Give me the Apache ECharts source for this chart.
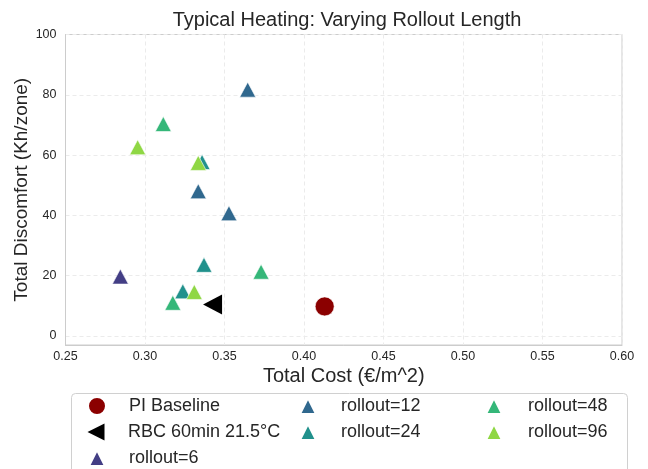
<!DOCTYPE html>
<html>
<head>
<meta charset="utf-8">
<script src="https://cdn.jsdelivr.net/npm/echarts@6/dist/echarts.min.js"></script>
<style>
html,body{margin:0;padding:0;background:#fff;}
#chart{width:648px;height:469px;}
</style>
</head>
<body>
<div id="chart"></div>
<script>
// ---- data ----
const xTicks = [0.25, 0.30, 0.35, 0.40, 0.45, 0.50, 0.55, 0.60];
const yTicks = [0, 20, 40, 60, 80, 100];

const piCost = [0.413];   const piDisc = [9.8];
const rbcCost = [0.3425]; const rbcDisc = [10.4];
const r6Cost = [0.2845];  const r6Disc = [19.7];
const r12Cost = [0.3646, 0.3335, 0.3528]; const r12Disc = [81.7, 48.0, 40.7];
const r24Cost = [0.3359, 0.3371, 0.3238]; const r24Disc = [57.7, 23.6, 14.8];
const r48Cost = [0.3115, 0.3730, 0.3175]; const r48Disc = [70.3, 21.3, 11.0];
const r96Cost = [0.2954, 0.3335, 0.3310]; const r96Disc = [62.6, 57.4, 14.6];

const seriesNames = ['PI Baseline', 'RBC 60min 21.5°C', 'rollout=6', 'rollout=12', 'rollout=24', 'rollout=48', 'rollout=96'];
const seriesColors = ['#8b0000', '#000000', '#433e85', '#30688e', '#21918c', '#35b779', '#8fd744'];
const seriesCost = [piCost, rbcCost, r6Cost, r12Cost, r24Cost, r48Cost, r96Cost];
const seriesDisc = [piDisc, rbcDisc, r6Disc, r12Disc, r24Disc, r48Disc, r96Disc];

// ---- chart ----
const FONT = "'Liberation Sans', Arial, sans-serif";
const TXT = '#262626';
const chart = echarts.init(document.getElementById('chart'), null, {renderer: 'canvas'});

function pairs(xs, ys) { return xs.map((x, i) => [x, ys[i]]); }

const series = seriesNames.map((name, i) => {
  const base = {
    name: name,
    type: 'scatter',
    data: pairs(seriesCost[i], seriesDisc[i]),
    itemStyle: {color: seriesColors[i], borderColor: '#ffffff', borderWidth: 0.6, opacity: 1},
    symbolKeepAspect: true,
    z: 2 + i,
    emphasis: {disabled: true}
  };
  if (i === 0) { base.symbol = 'circle'; base.symbolSize = 19; }
  else if (i === 1) { base.symbol = 'triangle'; base.symbolSize = [20, 19]; base.symbolRotate = 90; base.itemStyle.borderWidth = 0; }
  else { base.symbol = 'triangle'; base.symbolSize = [16, 15]; }
  return base;
});

// legend: 3 columns, column-major
const legendLayout = [
  // [seriesIndex, markerX, textX, rowY, iconSize, icon]
  [0, 96, 128, 406, 18, 'circle'],
  [1, 96, 128, 432, 17, 'path://M0,5 L10,0 L10,10 Z'],
  [2, 96, 128, 458, 16, 'triangle'],
  [3, 307, 340, 406, 16, 'triangle'],
  [4, 307, 340, 432, 16, 'triangle'],
  [5, 493, 527, 406, 16, 'triangle'],
  [6, 493, 527, 432, 16, 'triangle']
];
const legends = legendLayout.map(([si, mx, tx, ry, sz, icon]) => {
  return {
    data: [{name: seriesNames[si], icon: icon}],
    left: mx - sz / 2,
    top: ry - 11,
    padding: 0,
    itemWidth: sz,
    itemHeight: sz,
    itemGap: 0,
    selectedMode: false,
    textStyle: {fontFamily: FONT, fontSize: 18, color: TXT, lineHeight: 22,
      padding: [0, 0, 0, tx - (mx + sz / 2 + 5)]}
  };
});

const option = {
  backgroundColor: '#ffffff',
  animation: false,
  title: {
    text: 'Typical Heating: Varying Rollout Length',
    left: 342,
    textAlign: 'center',
    top: 5,
    textStyle: {fontFamily: FONT, fontSize: 20, fontWeight: 'normal', color: TXT}
  },
  graphic: [{
    type: 'rect',
    left: 71, top: 393,
    shape: {width: 556, height: 100, r: 4},
    style: {fill: '#ffffff', stroke: '#d0d0d0', lineWidth: 1},
    z: -1
  }],
  legend: legends,
  grid: {left: 65.5, right: 26, top: 34.5, bottom: 124, show: true, borderColor: '#cccccc', borderWidth: 1,
    containLabel: false, outerBoundsMode: 'none'},
  xAxis: {
    type: 'value',
    min: xTicks[0], max: xTicks[xTicks.length - 1], interval: 0.05,
    name: 'Total Cost (€/m^2)', nameLocation: 'middle', nameGap: 21, nameMoveOverlap: false,
    nameTextStyle: {fontFamily: FONT, fontSize: 20, color: TXT},
    axisLine: {show: true, onZero: false, lineStyle: {color: '#cccccc'}},
    axisTick: {show: false},
    axisLabel: {fontFamily: FONT, fontSize: 12.5, color: TXT, margin: 5, formatter: v => v.toFixed(2)},
    splitLine: {show: true, lineStyle: {color: '#ebebeb', type: [4, 3], width: 1}}
  },
  yAxis: {
    type: 'value',
    min: -3, max: yTicks[yTicks.length - 1], splitNumber: 5,
    name: 'Total Discomfort (Kh/zone)', nameLocation: 'middle', nameGap: 34, nameMoveOverlap: false,
    nameTextStyle: {fontFamily: FONT, fontSize: 19, color: TXT},
    axisLine: {show: true, onZero: false, lineStyle: {color: '#cccccc'}},
    axisTick: {show: false},
    axisLabel: {fontFamily: FONT, fontSize: 12.5, color: TXT, margin: 9, showMinLabel: false,
      formatter: v => (yTicks.indexOf(v) >= 0 ? String(v) : '')},
    splitLine: {show: true, lineStyle: {color: '#ebebeb', type: [4, 3], width: 1}}
  },
  series: series
};
chart.setOption(option);
</script>
</body>
</html>
